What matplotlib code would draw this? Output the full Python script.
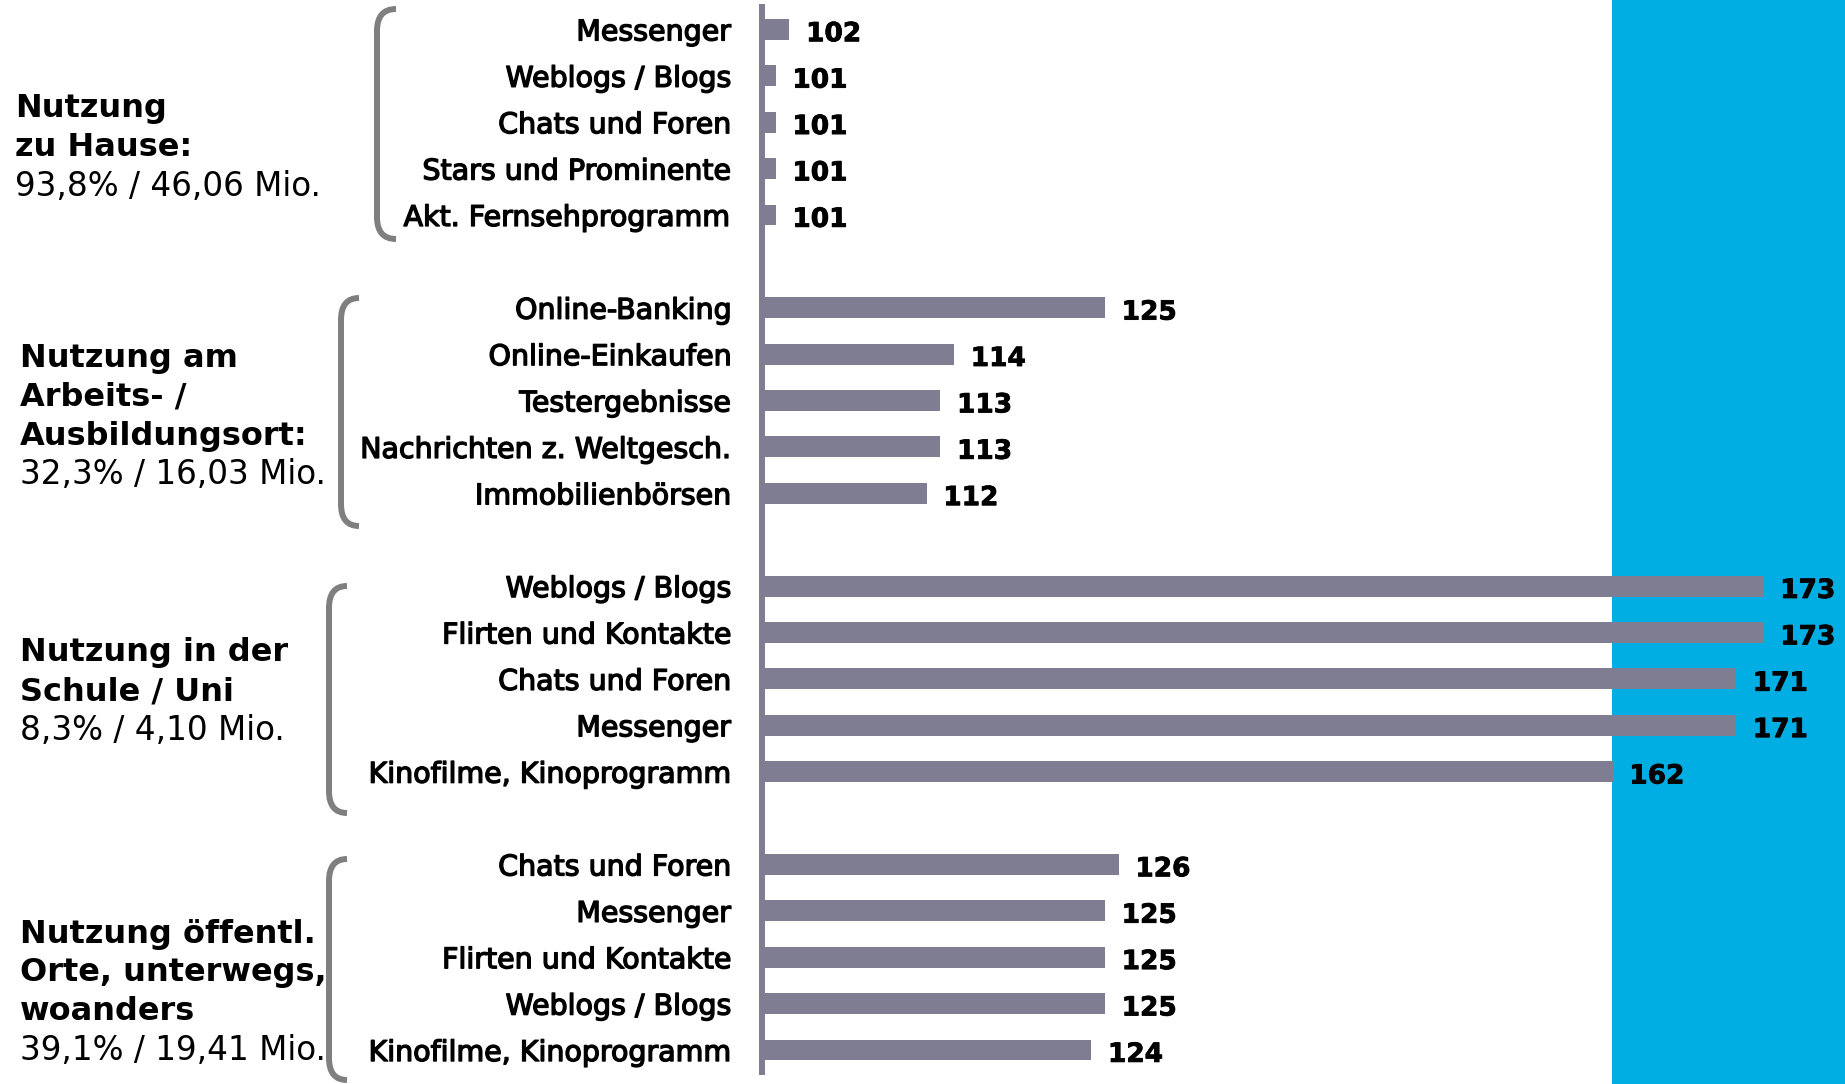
import matplotlib
matplotlib.use("Agg")
import matplotlib.pyplot as plt
from matplotlib.path import Path
from matplotlib.patches import PathPatch, Rectangle
import matplotlib.patheffects as pe

# ---------------- data ----------------
group_titles = [
    ["Nutzung", "zu Hause:"],
    ["Nutzung am", "Arbeits- /", "Ausbildungsort:"],
    ["Nutzung in der", "Schule / Uni"],
    ["Nutzung öffentl.", "Orte, unterwegs,", "woanders"],
]
group_stats = [
    "93,8% / 46,06 Mio.",
    "32,3% / 16,03 Mio.",
    "8,3% / 4,10 Mio.",
    "39,1% / 19,41 Mio.",
]
categories = [
    ["Messenger", "Weblogs / Blogs", "Chats und Foren", "Stars und Prominente", "Akt. Fernsehprogramm"],
    ["Online-Banking", "Online-Einkaufen", "Testergebnisse", "Nachrichten z. Weltgesch.", "Immobilienbörsen"],
    ["Weblogs / Blogs", "Flirten und Kontakte", "Chats und Foren", "Messenger", "Kinofilme, Kinoprogramm"],
    ["Chats und Foren", "Messenger", "Flirten und Kontakte", "Weblogs / Blogs", "Kinofilme, Kinoprogramm"],
]
values = [
    [102, 101, 101, 101, 101],
    [125, 114, 113, 113, 112],
    [173, 173, 171, 171, 162],
    [126, 125, 125, 125, 124],
]
baseline = 100

# ---------------- style ----------------
W, H = 1845, 1084
BAR = "#7e7d92"
BLUE = "#00aee4"
GREY = "#7f7f7f"

fig = plt.figure(figsize=(W / 100, H / 100), dpi=100)
fig.patch.set_facecolor("white")

# overlay in pixel coordinates for decorations
ov = fig.add_axes([0, 0, 1, 1])
ov.set_xlim(0, W)
ov.set_ylim(H, 0)
ov.axis("off")
ov.add_patch(Rectangle((1612, 0), W - 1612, H, color=BLUE, zorder=0, lw=0))

# main bar axes
x0_px, px_per_unit = 762, 13.72
y0_px, pitch = 29.4, 46.4
ax = fig.add_axes([x0_px / W, 0, 1 - x0_px / W, 1])
ax.patch.set_alpha(0)
ax.set_xlim(baseline, baseline + (W - x0_px) / px_per_unit)
ax.set_ylim(22 + (H - 1050) / pitch, -y0_px / pitch)

ypos, labels, vals = [], [], []
for g, (cats, vs) in enumerate(zip(categories, values)):
    for i, (c, v) in enumerate(zip(cats, vs)):
        ypos.append(g * 6 + i)
        labels.append(c)
        vals.append(v)

ax.barh(ypos, vals, height=0.45, color=BAR, zorder=2)
for y, v in zip(ypos, vals):
    t = ax.annotate(str(v), xy=(v, y), xytext=(12, -3.5), textcoords="offset points",
                    va="center", ha="left", fontsize=19, fontweight="bold",
                    color="black", zorder=3)
    t.set_path_effects([pe.withStroke(linewidth=0.6, foreground="black")])

ax.set_yticks(ypos)
ax.set_yticklabels(labels)
ax.tick_params(axis="y", length=0, pad=22, labelsize=20.5)
for t in ax.get_yticklabels():
    t.set_path_effects([pe.withStroke(linewidth=1.0, foreground="black")])
ax.set_xticks([])
for s in ["top", "right", "bottom"]:
    ax.spines[s].set_visible(False)
ax.spines["left"].set_color(BAR)
ax.spines["left"].set_linewidth(4.3)
ax.spines["left"].set_bounds(-(y0_px - 7) / pitch, 22 + (1072 - 1050) / pitch)

# group texts
text_x = [15, 20, 20, 20]
line_y = [
    [109, 148, 187],
    [359, 397, 436, 475],
    [653, 692, 730],
    [934, 973, 1012, 1050],
]
for g in range(4):
    lines = group_titles[g] + [group_stats[g]]
    for j, (ln, yy) in enumerate(zip(lines, line_y[g])):
        bold = j < len(group_titles[g])
        ov.text(text_x[g], yy, ln, ha="left", va="center",
                fontsize=23 if bold else 23.5,
                fontweight="bold" if bold else "normal", color="black")

# brackets
brackets = [
    (377, 396, 9, 239),
    (341, 359, 298, 526),
    (329, 347, 586, 813),
    (329, 347, 859, 1080),
]
for xl, xr, yt, yb in brackets:
    r = 22
    verts = [(xr, yt), (xl, yt), (xl, yt + r), (xl, yb - r), (xl, yb), (xr, yb)]
    codes = [Path.MOVETO, Path.CURVE3, Path.CURVE3, Path.LINETO, Path.CURVE3, Path.CURVE3]
    ov.add_patch(PathPatch(Path(verts, codes), fill=False, edgecolor=GREY,
                           lw=4.3, capstyle="butt", zorder=2))

fig.savefig("out.png", dpi=100)
